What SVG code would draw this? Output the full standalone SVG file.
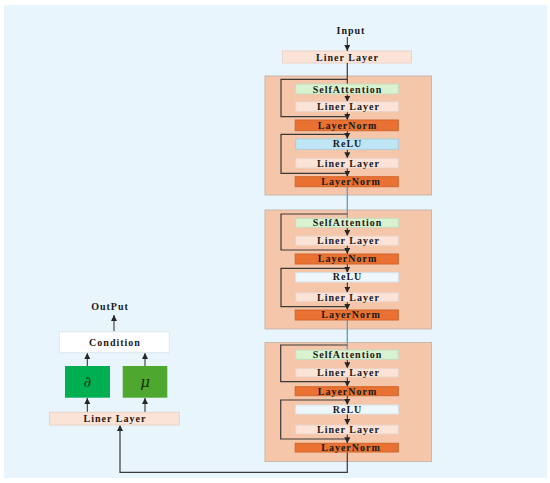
<svg xmlns="http://www.w3.org/2000/svg" width="550" height="483" viewBox="0 0 550 483">
<defs>
<marker id="ah" viewBox="0 0 6 6" refX="6" refY="3" markerWidth="6" markerHeight="6" markerUnits="userSpaceOnUse" orient="auto">
<path d="M0,0 L6,3 L0,6 z" fill="#262626"/>
</marker>
</defs>
<style>
text{font-family:"Liberation Serif","Times New Roman",serif;font-weight:bold;font-size:10px;text-anchor:middle;fill:#1a1a1a;letter-spacing:1px}
.blk{fill:#F5C6A9;stroke:#C8B8AE;stroke-width:1}
.lin{fill:#FBE3D8;stroke:#EBD2C6;stroke-width:1}
.sa{fill:#D9F2D0;stroke:#C5DCC0;stroke-width:1}
.ln{fill:#E97132;stroke:#D0652C;stroke-width:1}
.relu1{fill:#C0E6F5;stroke:#A9CEDC;stroke-width:1}
.relu{fill:#EEF8FC;stroke:#D7E4EA;stroke-width:1}
.c{fill:none;stroke:#3a3a3a;stroke-width:1.2}
.cb{fill:none;stroke:#6F9FBE;stroke-width:1.4}
.a{fill:none;stroke:#262626;stroke-width:1;marker-end:url(#ah)}
</style>
<rect x="4" y="5" width="543" height="473" fill="#E8F5FC"/>

<g id="input-label"><text x="351" y="33.5">Input</text></g>
<g id="liner-top"><rect class="lin" x="282.5" y="51" width="129" height="12"/><text x="347.5" y="60.5">Liner Layer</text></g>

<g id="block1">
<rect class="blk" x="265" y="76" width="166.5" height="119"/>
</g>
<g id="block2">
<rect class="blk" x="265" y="210" width="166.5" height="119"/>
</g>
<g id="block3">
<rect class="blk" x="265" y="342.5" width="166.5" height="119"/>
</g>

<g id="connectors">
<!-- input -->
<line class="a" x1="347.3" y1="37" x2="347.3" y2="51"/>
<line class="c" x1="347.3" y1="63" x2="347.3" y2="84"/>
<!-- block1 -->
<polyline class="c" points="347.3,79.3 281,79.3 281,116.7 347.3,116.7"/>
<line class="a" x1="347.3" y1="94" x2="347.3" y2="101.7"/>
<line class="a" x1="347.3" y1="111.7" x2="347.3" y2="120"/>
<polyline class="c" points="347.3,134.3 281,134.3 281,173.3 347.3,173.3"/>
<line class="a" x1="347.3" y1="130.7" x2="347.3" y2="139"/>
<line class="a" x1="347.3" y1="149.3" x2="347.3" y2="158.3"/>
<line class="a" x1="347.3" y1="168" x2="347.3" y2="176.7"/>
<line class="cb" x1="347.3" y1="186.7" x2="347.3" y2="218.3"/>
<!-- block2 -->
<polyline class="c" points="347.3,214 281,214 281,250 347.3,250"/>
<line class="a" x1="347.3" y1="227.3" x2="347.3" y2="236"/>
<line class="a" x1="347.3" y1="245.3" x2="347.3" y2="254"/>
<polyline class="c" points="347.3,268.3 281,268.3 281,306.7 347.3,306.7"/>
<line class="a" x1="347.3" y1="264" x2="347.3" y2="272.7"/>
<line class="a" x1="347.3" y1="282" x2="347.3" y2="292.7"/>
<line class="a" x1="347.3" y1="301.7" x2="347.3" y2="310"/>
<line class="cb" x1="347.3" y1="320" x2="347.3" y2="350"/>
<!-- block3 -->
<polyline class="c" points="347.3,345 280.7,345 280.7,381.7 347.3,381.7"/>
<line class="a" x1="347.3" y1="359.3" x2="347.3" y2="368.3"/>
<line class="a" x1="347.3" y1="376.7" x2="347.3" y2="386.7"/>
<polyline class="c" points="347.3,400 280.7,400 280.7,439 347.3,439"/>
<line class="a" x1="347.3" y1="395.7" x2="347.3" y2="405"/>
<line class="a" x1="347.3" y1="414" x2="347.3" y2="425"/>
<line class="a" x1="347.3" y1="434" x2="347.3" y2="443.3"/>
<!-- feedback to left liner -->
<polyline class="c" points="347.3,452 347.3,472.3 120,472.3 120,430"/>
<line class="a" x1="120" y1="431" x2="120" y2="425"/>
<!-- left side -->
<line class="a" x1="87.3" y1="412" x2="87.3" y2="398"/>
<line class="a" x1="145" y1="412" x2="145" y2="398"/>
<line class="a" x1="87.3" y1="366" x2="87.3" y2="353"/>
<line class="a" x1="145" y1="366" x2="145" y2="353"/>
<line class="a" x1="114" y1="331.5" x2="114" y2="315"/>
</g>

<g id="b1-sa"><rect class="sa" x="295.7" y="84" width="102.6" height="10"/><text x="347.5" y="92.5">SelfAttention</text></g>
<g id="b1-lin1"><rect class="lin" x="295.7" y="101.7" width="102.6" height="10"/><text x="348.5" y="110">Liner Layer</text></g>
<g id="b1-ln1"><rect class="ln" x="295.2" y="120" width="103.1" height="10.7"/><text x="347.5" y="128.8">LayerNorm</text></g>
<g id="b1-relu"><rect class="relu1" x="295.7" y="139" width="102.6" height="10.3"/><text x="347.5" y="147">ReLU</text></g>
<g id="b1-lin2"><rect class="lin" x="295.7" y="158.3" width="102.6" height="9.7"/><text x="348.5" y="166.5">Liner Layer</text></g>
<g id="b1-ln2"><rect class="ln" x="295.2" y="176.7" width="103.1" height="10"/><text x="351" y="185">LayerNorm</text></g>

<g id="b2-sa"><rect class="sa" x="295.7" y="218.3" width="102.6" height="9"/><text x="347.5" y="226.3">SelfAttention</text></g>
<g id="b2-lin1"><rect class="lin" x="295.7" y="236" width="102.6" height="9.3"/><text x="348.5" y="244">Liner Layer</text></g>
<g id="b2-ln1"><rect class="ln" x="295.2" y="254" width="103.1" height="10"/><text x="347.5" y="262.3">LayerNorm</text></g>
<g id="b2-relu"><rect class="relu" x="295.7" y="272.7" width="102.6" height="9.3"/><text x="347.5" y="280">ReLU</text></g>
<g id="b2-lin2"><rect class="lin" x="295.7" y="292.7" width="102.6" height="9"/><text x="348.5" y="300.5">Liner Layer</text></g>
<g id="b2-ln2"><rect class="ln" x="295.2" y="310" width="103.1" height="10"/><text x="351" y="318.3">LayerNorm</text></g>

<g id="b3-sa"><rect class="sa" x="295.7" y="350" width="102.6" height="9.3"/><text x="347.5" y="358">SelfAttention</text></g>
<g id="b3-lin1"><rect class="lin" x="295.7" y="368.3" width="102.6" height="8.7"/><text x="348.5" y="376">Liner Layer</text></g>
<g id="b3-ln1"><rect class="ln" x="295.2" y="386.7" width="103.1" height="9"/><text x="347.5" y="394.5">LayerNorm</text></g>
<g id="b3-relu"><rect class="relu" x="295.7" y="405" width="102.6" height="9"/><text x="347.5" y="412.5">ReLU</text></g>
<g id="b3-lin2"><rect class="lin" x="295.7" y="425" width="102.6" height="9"/><text x="348.5" y="432.8">Liner Layer</text></g>
<g id="b3-ln2"><rect class="ln" x="295.2" y="443.3" width="103.1" height="8.7"/><text x="351" y="451">LayerNorm</text></g>

<g id="output-label"><text x="110" y="310">OutPut</text></g>
<g id="condition"><rect x="59.3" y="331.7" width="110" height="21" fill="#FFFFFF" stroke="#DDE6EC" stroke-width="1"/><text x="115" y="345.5">Condition</text></g>
<g id="partial"><rect x="65" y="366" width="45" height="31.7" fill="#00B050"/><text x="87.5" y="387" style="font-size:15px;font-style:italic;font-weight:normal;letter-spacing:0;fill:#1a3a1a;font-family:'DejaVu Serif',serif">∂</text></g>
<g id="mu"><rect x="122.7" y="366" width="44.6" height="31.7" fill="#4EA72E"/><text x="145" y="387" style="font-size:15px;font-style:italic;font-weight:normal;letter-spacing:0;fill:#1a2a10;font-family:'DejaVu Serif',serif">μ</text></g>
<g id="liner-left"><rect class="lin" x="49.5" y="412.3" width="129.8" height="12.7"/><text x="115" y="422">Liner Layer</text></g>
</svg>
